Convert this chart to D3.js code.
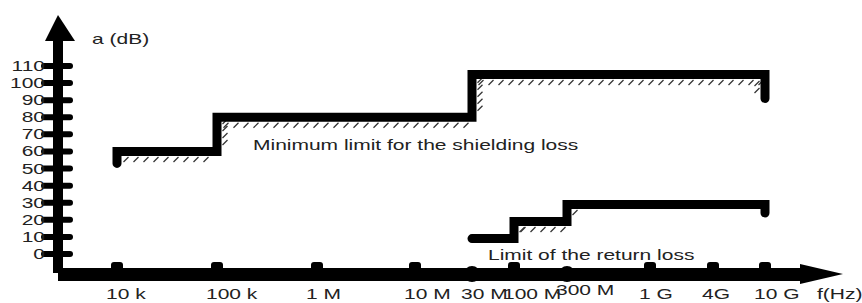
<!DOCTYPE html>
<html>
<head>
<meta charset="utf-8">
<script src="https://cdn.jsdelivr.net/npm/d3@7"></script>
<style>
  html, body { margin: 0; padding: 0; background: #fff; }
  svg { display: block; }
  text { font-family: "Liberation Sans", Arial, sans-serif; font-size: 14px; fill: #222; }
</style>
</head>
<body>
<svg id="chart" width="862" height="303"></svg>
<script>
(function(){
    // values
    var yTicks = [0, 10, 20, 30, 40, 50, 60, 70, 80, 90, 100, 110];
    var xTickValues = [1e4, 1e5, 1e6, 1e7, 3e7, 1e8, 3e8, 1e9, 4e9, 1e10];
    var xTickLabels = ["10 k", "100 k", "1 M", "10 M", "30 M", "100 M", "300 M", "1 G", "4G", "10 G"];
    var bigTicks = [3e7, 3e8];

    var shieldFreq = [1e4, 1e4, 1e5, 1e5, 3e7, 3e7, 1e10, 1e10];
    var shieldDb   = [53, 60, 60, 80, 80, 105, 105, 91];
    var shieldHatch = [1, 2, 3, 4, 5, 6];

    var returnFreq = [3e7, 1e8, 1e8, 3e8, 3e8, 1e10, 1e10];
    var returnDb   = [9, 9, 19, 19, 29, 29, 24];
    var returnHatch = [1, 2, 3];

    var stretch = 1.5;   // the picture's text is widened

    var svg = d3.select("#chart");

    // schematic axis: decades are not evenly spaced in the picture
    var x = d3.scaleLog()
        .domain(xTickValues)
        .range([117, 217, 317, 415, 472, 514, 567, 650, 713, 765]);

    var y = d3.scaleLinear()
        .domain([0, 110])
        .range([254, 66]);

    function putText(sel, tx, ty){
        sel.attr("transform", "translate(" + tx + "," + ty + ") scale(" + stretch + ",1)");
    }

    // y axis
    svg.append("rect")
        .attr("x", 53).attr("y", 40)
        .attr("width", 10).attr("height", 233)
        .attr("fill", "#000");
    svg.append("path")
        .attr("d", "M45,41 L75,41 L58,15 Z")
        .attr("fill", "#000");

    svg.selectAll("line.ytick")
        .data(yTicks)
        .enter()
        .append("line")
        .attr("class", "ytick")
        .attr("x1", 44).attr("x2", 70)
        .attr("y1", function(d){ return y(d); })
        .attr("y2", function(d){ return y(d); })
        .attr("stroke", "#000")
        .attr("stroke-width", 6)
        .attr("stroke-linecap", "round");

    svg.selectAll("text.ylab")
        .data(yTicks)
        .enter()
        .append("text")
        .attr("class", "ylab")
        .attr("text-anchor", "end")
        .text(function(d){ return d; })
        .each(function(d){ putText(d3.select(this), 45, y(d) + 5); });

    putText(svg.append("text").text("a (dB)"), 92, 44);

    // x axis
    svg.append("rect")
        .attr("x", 58).attr("y", 268)
        .attr("width", 744).attr("height", 13)
        .attr("fill", "#000");
    svg.append("path")
        .attr("d", "M800,264 L800,284 L843,274 Z")
        .attr("fill", "#000");

    svg.selectAll("rect.xtick")
        .data(xTickValues.filter(function(d){ return bigTicks.indexOf(d) < 0; }))
        .enter()
        .append("rect")
        .attr("class", "xtick")
        .attr("x", function(d){ return x(d) - 6; })
        .attr("y", 262)
        .attr("width", 12).attr("height", 10)
        .attr("rx", 3)
        .attr("fill", "#000");

    svg.selectAll("circle.xtick")
        .data(bigTicks)
        .enter()
        .append("circle")
        .attr("class", "xtick")
        .attr("cx", function(d){ return x(d); })
        .attr("cy", 274)
        .attr("r", 8)
        .attr("fill", "#000");

    svg.selectAll("text.xlab")
        .data(xTickValues)
        .enter()
        .append("text")
        .attr("class", "xlab")
        .text(function(d,i){ return xTickLabels[i]; })
        .each(function(d){
            var raise = d == 3e8 ? 4 : 0;
            putText(d3.select(this), x(d) - 11, 299 - raise);
        });

    putText(svg.append("text").text("f(Hz)"), 817, 299);

    // limit curves
    var line = d3.line()
        .x(function(d){ return x(d[0]); })
        .y(function(d){ return y(d[1]); });

    function drawLimit(freq, db, hatchSegs){
        var pts = freq.map(function(f,i){ return [f, db[i]]; });

        var marks = [];
        hatchSegs.forEach(function(i){
            var x0 = x(pts[i][0]), y0 = y(pts[i][1]),
                x1 = x(pts[i+1][0]), y1 = y(pts[i+1][1]);
            var dx = x1 - x0, dy = y1 - y0,
                len = Math.sqrt(dx*dx + dy*dy);
            var ux = dx / len, uy = dy / len;
            var nx = -uy, ny = ux;   // right hand side = inside of the limit
            var step = Math.abs(dx) > Math.abs(dy) ? 10 : 7;
            for(var t = 9; t < len - 2; t += step){
                var cx = x0 + ux * t + nx * 8,
                    cy = y0 + uy * t + ny * 8;
                marks.push([cx, cy]);
            }
        });

        svg.append("g")
            .selectAll("line")
            .data(marks)
            .enter()
            .append("line")
            .attr("x1", function(d){ return d[0] - 2.5; })
            .attr("y1", function(d){ return d[1] + 2.5; })
            .attr("x2", function(d){ return d[0] + 2.5; })
            .attr("y2", function(d){ return d[1] - 2.5; })
            .attr("stroke", "#333")
            .attr("stroke-width", 1.2);

        svg.append("path")
            .datum(pts)
            .attr("d", line)
            .attr("fill", "none")
            .attr("stroke", "#000")
            .attr("stroke-width", 9)
            .attr("stroke-linejoin", "miter")
            .attr("stroke-linecap", "round");
    }

    drawLimit(shieldFreq, shieldDb, shieldHatch);
    drawLimit(returnFreq, returnDb, returnHatch);

    putText(svg.append("text").text("Minimum limit for the shielding loss"), 253, 150);
    putText(svg.append("text").text("Limit of the return loss"), 488, 260);
})();
</script>
</body>
</html>
